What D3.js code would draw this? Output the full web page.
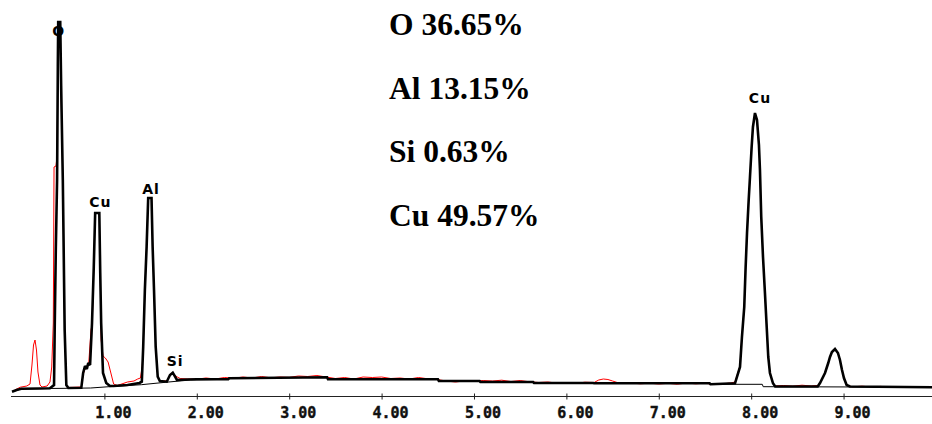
<!DOCTYPE html>
<html>
<head>
<meta charset="utf-8">
<script src="https://cdn.jsdelivr.net/npm/d3@7"></script>
<style>
  body { margin: 0; background: #fff; }
  .tick text { font-family: "DejaVu Sans Mono", monospace; font-weight: bold; font-size: 15px; stroke: #111; stroke-width: 0.4px; }
  .peak { font-family: "DejaVu Sans", sans-serif; font-weight: bold; font-size: 14px; letter-spacing: 1px; }
  .wt { font-family: "Liberation Serif", "Times New Roman", serif; font-weight: bold; font-size: 31.5px; }
</style>
</head>
<body>
<div id="eds"></div>
<script>
// energy (keV), counts
const rawSpectrum = [
  [0.03, 60], [0.09, 88], [0.16, 100], [0.195, 120], [0.216, 310], [0.233, 510], [0.249, 560],
  [0.265, 460], [0.281, 240], [0.303, 110], [0.325, 90], [0.38, 100], [0.411, 140], [0.43, 290],
  [0.447, 730], [0.455, 2290], [0.476, 2300], [0.488, 2400], [0.498, 3300], [0.505, 3740],
  [0.518, 3740], [0.53, 3100], [0.55, 2160], [0.57, 660], [0.588, 110], [0.61, 85], [0.75, 90],
  [0.77, 220], [0.80, 290], [0.83, 320], [0.855, 660], [0.868, 720], [0.885, 1290], [0.90, 1830],
  [0.945, 1830], [0.955, 1230], [0.965, 560], [0.985, 400], [1.01, 380], [1.04, 340], [1.07, 230],
  [1.10, 120], [1.14, 105], [1.25, 140], [1.32, 150], [1.36, 170], [1.39, 180], [1.40, 240],
  [1.41, 300], [1.42, 493], [1.438, 1060], [1.457, 1493], [1.474, 1980], [1.51, 1980],
  [1.522, 1493], [1.537, 1060], [1.555, 493], [1.577, 193], [1.60, 150], [1.675, 150], [1.71, 215],
  [1.74, 235], [1.765, 205], [1.79, 190], [1.82, 175], [1.90, 170], [2.0, 168], [2.1, 180],
  [2.2, 170], [2.3, 185], [2.4, 178], [2.5, 190], [2.6, 180], [2.7, 195], [2.8, 182], [2.9, 190],
  [3.0, 186], [3.1, 200], [3.2, 195], [3.3, 205], [3.4, 190], [3.5, 175], [3.6, 185], [3.7, 170],
  [3.8, 190], [3.9, 185], [4.0, 190], [4.1, 175], [4.2, 180], [4.3, 170], [4.4, 185], [4.5, 172],
  [4.6, 165], [4.7, 150], [4.8, 140], [4.9, 152], [5.0, 148], [5.1, 155], [5.2, 150], [5.3, 158],
  [5.4, 145], [5.5, 155], [5.6, 142], [5.7, 135], [5.8, 140], [5.9, 128], [6.0, 132], [6.1, 125],
  [6.2, 138], [6.3, 135], [6.35, 160], [6.4, 170], [6.45, 165], [6.5, 150], [6.55, 135],
  [6.6, 125], [6.7, 130], [6.8, 122], [6.9, 128], [7.0, 120], [7.1, 127], [7.2, 118], [7.3, 130],
  [7.4, 122], [7.5, 128], [7.6, 115], [7.7, 122], [7.78, 130], [7.825, 140], [7.879, 300],
  [7.90, 600], [7.925, 880], [7.94, 1300], [7.955, 1620], [7.973, 1970], [7.987, 2180],
  [8.005, 2500], [8.019, 2680], [8.041, 2830], [8.063, 2770], [8.084, 2500], [8.095, 2270],
  [8.109, 1780], [8.128, 1400], [8.149, 1020], [8.168, 700], [8.185, 380], [8.203, 240],
  [8.236, 120], [8.26, 100], [8.35, 105], [8.45, 98], [8.55, 108], [8.65, 100], [8.72, 105],
  [8.745, 135], [8.799, 235], [8.834, 325], [8.853, 395], [8.874, 440], [8.907, 475], [8.939, 425],
  [8.961, 365], [8.983, 255], [9.004, 185], [9.033, 105], [9.1, 92], [9.2, 98], [9.3, 90],
  [9.4, 96], [9.5, 88], [9.6, 95], [9.7, 90], [9.8, 95], [9.9, 88]
];

const fitSpectrum = [
  [0.00, 43], [0.05, 60], [0.10, 72], [0.30, 75], [0.41, 78], [0.455, 110], [0.462, 660],
  [0.474, 1460], [0.488, 2160], [0.496, 3300], [0.500, 3740], [0.522, 3740], [0.532, 3100],
  [0.55, 2160], [0.57, 660], [0.588, 110], [0.61, 80], [0.75, 82], [0.77, 230], [0.79, 300],
  [0.81, 270], [0.825, 330], [0.845, 310], [0.866, 730], [0.885, 1290], [0.90, 1830],
  [0.945, 1830], [0.955, 1230], [0.965, 730], [0.985, 230], [1.02, 130], [1.06, 100], [1.10, 100],
  [1.25, 110], [1.38, 130], [1.405, 143], [1.42, 493], [1.438, 1060], [1.457, 1493], [1.474, 1980],
  [1.51, 1980], [1.522, 1493], [1.537, 1060], [1.555, 493], [1.577, 193], [1.60, 150],
  [1.675, 143], [1.71, 210], [1.74, 233], [1.765, 193], [1.785, 160], [1.90, 165], [2.00, 167],
  [2.34, 167], [2.35, 177], [3.41, 187], [3.42, 167], [4.61, 167], [4.62, 150], [5.06, 150],
  [5.07, 140], [5.64, 140], [5.65, 130], [6.29, 130], [6.30, 127], [7.55, 127], [7.56, 117],
  [7.825, 127], [7.879, 290], [7.90, 590], [7.925, 890], [7.94, 1290], [7.955, 1630],
  [7.973, 1960], [7.987, 2190], [8.005, 2490], [8.019, 2690], [8.041, 2830], [8.063, 2760],
  [8.084, 2510], [8.095, 2260], [8.109, 1790], [8.128, 1390], [8.149, 1030], [8.168, 690],
  [8.185, 390], [8.203, 230], [8.236, 127], [8.26, 95], [8.72, 95], [8.745, 130], [8.799, 230],
  [8.834, 330], [8.853, 390], [8.874, 440], [8.907, 470], [8.939, 430], [8.961, 360], [8.983, 260],
  [9.004, 180], [9.033, 110], [9.069, 95], [9.96, 88]
];

const background = [
  [0.00, 43], [0.10, 72], [0.35, 75], [0.60, 77], [0.85, 80], [1.05, 93], [1.40, 113],
  [1.66, 137], [1.93, 160], [2.34, 167], [2.35, 177], [3.41, 187], [3.42, 167], [4.61, 167],
  [4.62, 150], [5.06, 150], [5.07, 140], [5.64, 140], [5.65, 130], [6.29, 130], [6.30, 127],
  [7.55, 127], [7.56, 117], [8.12, 117], [8.13, 93], [9.96, 88]
];

const peakLabels = ["O", "Cu", "Al", "Si", "Cu"];
const peakEnergy = [0.50, 0.95, 1.50, 1.76, 8.09];
const peakLabelCounts = [3600, 1890, 2020, 305, 2927];

const wtElements = ["O", "Al", "Si", "Cu"];
const wtPercent = ["36.65%", "13.15%", "0.63%", "49.57%"];

const tickValues = [1, 2, 3, 4, 5, 6, 7, 8, 9];

const width = 932, height = 424;

const svg = d3.select("#eds").append("svg")
  .attr("width", width)
  .attr("height", height)
  .style("display", "block");

const x = d3.scaleLinear().domain([0, 9.957]).range([12, 932]);
const y = d3.scaleLinear().domain([0, 3960]).range([396, 0]);

const line = d3.line()
  .x(d => x(d[0]))
  .y(d => y(d[1]));

// axis - decimal point sits under the tick
const xAxis = d3.axisBottom(x)
  .tickValues(tickValues)
  .tickSizeOuter(0)
  .tickSize(3)
  .tickFormat(d3.format(".2f"));

const gx = svg.append("g")
  .attr("transform", "translate(0,396.5)")
  .call(xAxis);
gx.select(".domain").attr("d", "M11,0H932").attr("stroke", "#222");
gx.selectAll(".tick line").attr("y1", -3).attr("y2", 3).attr("stroke", "#222");
gx.selectAll(".tick text").attr("y", 21.5).attr("dy", 0).attr("dx", 8.5).attr("fill", "#111");

// raw data, fitted spectrum and background
svg.append("path")
  .attr("d", line(rawSpectrum))
  .attr("fill", "none")
  .attr("stroke", "#ff0000")
  .attr("stroke-width", 1);

svg.append("path")
  .attr("d", line(background))
  .attr("fill", "none")
  .attr("stroke", "#000")
  .attr("stroke-width", 1);

svg.append("path")
  .attr("d", line(fitSpectrum))
  .attr("fill", "none")
  .attr("stroke", "#000")
  .attr("stroke-width", 2.6)
  .attr("stroke-linejoin", "miter")
  .attr("stroke-miterlimit", 2);

// element labels over peaks
svg.selectAll(".peak")
  .data(peakLabels)
  .join("text")
  .attr("class", "peak")
  .attr("x", (d, i) => x(peakEnergy[i]) + 0.5)
  .attr("y", (d, i) => y(peakLabelCounts[i]))
  .attr("text-anchor", "middle")
  .text(d => d);

// weight percentages
svg.selectAll(".wt")
  .data(wtElements)
  .join("text")
  .attr("class", "wt")
  .attr("x", 389)
  .attr("y", (d, i) => 35 + i * 63.5)
  .text((d, i) => d + " " + wtPercent[i]);
</script>
</body>
</html>
